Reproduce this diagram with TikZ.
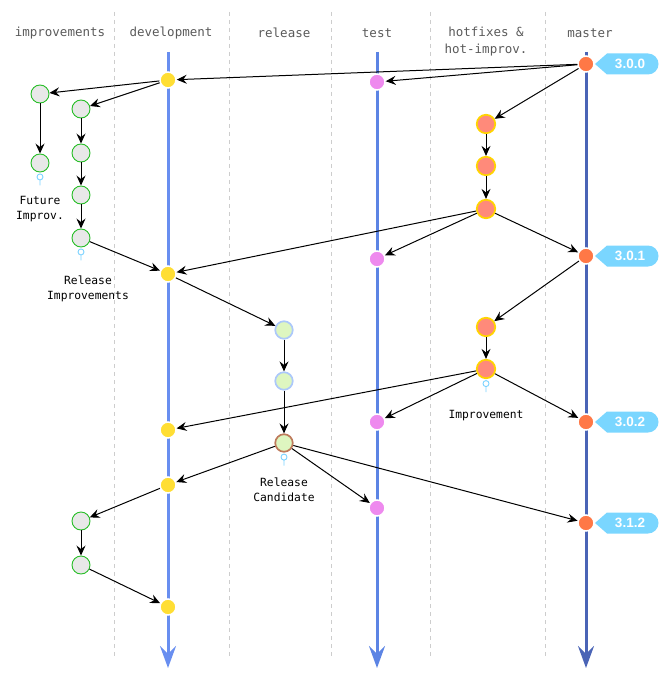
\documentclass[tikz,border=0pt]{standalone}
\usepackage{fontspec}
\setmainfont{DejaVu Sans Mono}
\newfontfamily\tagfont{Liberation Sans}
\usetikzlibrary{arrows.meta}
\definecolor{devblue}{RGB}{104,142,240}
\definecolor{testblue}{RGB}{92,132,228}
\definecolor{masblue}{RGB}{74,100,182}
\definecolor{devyellow}{RGB}{255,222,52}
\definecolor{testviolet}{RGB}{238,138,238}
\definecolor{masorange}{RGB}{255,120,70}
\definecolor{hotsalmon}{RGB}{255,138,122}
\definecolor{hotgold}{RGB}{255,212,0}
\definecolor{relgreen}{RGB}{222,246,192}
\definecolor{relrim}{RGB}{172,200,250}
\definecolor{rcrim}{RGB}{190,122,92}
\definecolor{impgray}{RGB}{232,232,232}
\definecolor{impgreen}{RGB}{40,190,40}
\definecolor{tagblue}{RGB}{122,214,255}
\definecolor{pinblue}{RGB}{122,210,255}
\definecolor{lanegray}{RGB}{205,205,205}
\definecolor{headgray}{RGB}{90,90,90}
\tikzset{
  commit/.style={circle, inner sep=0pt, minimum size=16pt, draw=white, line width=1.5pt},
  devc/.style={commit, fill=devyellow},
  testc/.style={commit, fill=testviolet},
  masc/.style={commit, fill=masorange},
  hotc/.style={circle, inner sep=0pt, minimum size=18.5pt, draw=hotgold, line width=1.7pt, fill=hotsalmon},
  relc/.style={circle, inner sep=0pt, minimum size=17.5pt, draw=relrim, line width=1.7pt, fill=relgreen},
  impc/.style={circle, inner sep=0pt, minimum size=18pt, draw=impgreen, line width=0.9pt, fill=impgray},
  edge/.style={-{Stealth[length=10pt,width=9pt,inset=3.5pt]}, line width=1pt},
  branch/.style={line width=3pt, -{Stealth[length=22pt,width=16pt,inset=8pt]}},
  lane/.style={draw=lanegray, dash pattern=on 4pt off 4pt, line width=0.8pt},
  header/.style={font=\fontsize{12.5}{17}\selectfont, text=headgray, align=center},
  note/.style={font=\fontsize{11.3}{15}\selectfont, align=center},
  tagtext/.style={font=\tagfont\bfseries\fontsize{13.5}{15}\selectfont, text=white},
}
\begin{document}
\begin{tikzpicture}[x=1pt, y=-1pt]
  \useasboundingbox (0,0) rectangle (671,687);
  % column headers
  \node[header] (hImp) at (60,33) {improvements};
  \node[header] (hDev) at (171,33) {development};
  \node[header] (hRel) at (284,33) {release};
  \node[header] (hTest) at (377,33) {test};
  \node[header] (hHot) at (486,42) {hotfixes \&\\hot-improv.};
  \node[header] (hMas) at (590,33) {master};
  \foreach \x in {114,229,331,430,545}
    \draw[lane] (\x,12) -- (\x,658);
  % long-lived branches
  \draw[branch, devblue] (168,52) -- (168,668);
  \draw[branch, testblue] (377,52) -- (377,668);
  \draw[branch, masblue] (586,52) -- (586,668);
  % commits
  \node[devc] (d1) at (168,80) {};
  \node[devc] (d2) at (168,274) {};
  \node[devc] (d3) at (168,430) {};
  \node[devc] (d4) at (168,485) {};
  \node[devc] (d5) at (168,607) {};
  \node[testc] (t1) at (377,82) {};
  \node[testc] (t2) at (377,259) {};
  \node[testc] (t3) at (377,422) {};
  \node[testc] (t4) at (377,508) {};
  \node[masc] (m1) at (586,64) {};
  \node[masc] (m2) at (586,256) {};
  \node[masc] (m3) at (586,422) {};
  \node[masc] (m4) at (586,523) {};
  \node[hotc] (h1) at (486,124) {};
  \node[hotc] (h2) at (486,166) {};
  \node[hotc] (h3) at (486,209) {};
  \node[hotc] (h4) at (486,327) {};
  \node[hotc] (h5) at (486,369) {};
  \node[relc] (r1) at (284,330) {};
  \node[relc] (r2) at (284,381) {};
  \node[relc, draw=rcrim] (r3) at (284,443) {};
  \node[impc] (i1) at (40,94) {};
  \node[impc] (i2) at (81,109) {};
  \node[impc] (i3) at (40,163) {};
  \node[impc] (i4) at (81,153) {};
  \node[impc] (i5) at (81,195) {};
  \node[impc] (i6) at (81,238) {};
  \node[impc] (i7) at (81,521) {};
  \node[impc] (i8) at (81,565) {};
  % merges and forks
  \foreach \a/\b in {m1/d1, m1/t1, m1/h1, d1/i1, d1/i2, i1/i3, i2/i4, i4/i5, i5/i6,
      i6/d2, h1/h2, h2/h3, h3/d2, h3/t2, h3/m2, d2/r1, m2/h4, h4/h5, r1/r2, r2/r3,
      h5/d3, h5/t3, h5/m3, r3/d4, r3/t4, r3/m4, d4/i7, i7/i8, i8/d5}
    \draw[edge] (\a) -- (\b);
  % version tags
  \foreach \m/\v in {m1/3.0.0, m2/3.0.1, m3/3.0.2, m4/3.1.2} {
    \fill[tagblue] ([xshift=9pt]\m.center) -- ++(12,-10.5) -- ++(41,0)
      arc[start angle=-90, end angle=90, radius=10.5] -- ++(-41,0) -- cycle;
    \node[tagtext] (tag\m) at ([xshift=44pt]\m.center) {\v};
  }
  % pins
  \foreach \n in {i3, i6, r3, h5} {
    \draw[pinblue, line width=0.9pt] ([yshift=-4.5pt]\n.south) circle (3)
      ([yshift=-7.5pt]\n.south) -- ([yshift=-13pt]\n.south);
  }
  % notes
  \node[note] (nFut) at (40,209) {Future\\Improv.};
  \node[note] (nRelImp) at (88,289) {Release\\Improvements};
  \node[note] (nRC) at (284,490) {Release\\Candidate};
  \node[note] (nImp) at (486,416) {Improvement};
\end{tikzpicture}
\end{document}
